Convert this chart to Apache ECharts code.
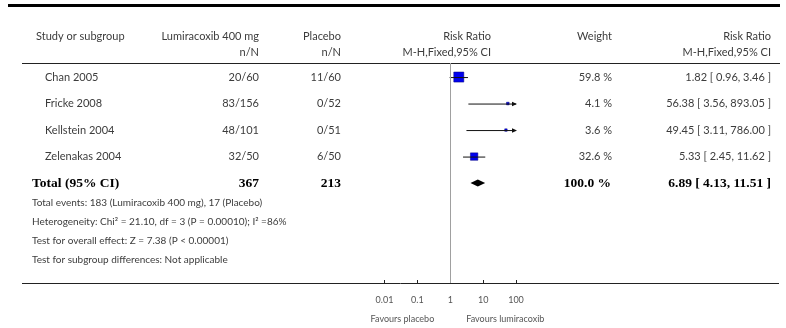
<!DOCTYPE html>
<html><head><meta charset="utf-8">
<script src="https://cdn.jsdelivr.net/npm/echarts@6/dist/echarts.min.js"></script>
<style>html,body{margin:0;padding:0;background:#fff}#c{width:786px;height:328px}</style>
</head><body><div id="c"></div>
<script>
// ---- data ----
const studies = ['Chan 2005', 'Fricke 2008', 'Kellstein 2004', 'Zelenakas 2004'];
const treatN = ['20/60', '83/156', '48/101', '32/50'];
const placeboN = ['11/60', '0/52', '0/51', '6/50'];
const rr = [1.82, 56.38, 49.45, 5.33];
const ciLow = [0.96, 3.56, 3.11, 2.45];
const ciHigh = [3.46, 893.05, 786.00, 11.62];
const weights = [59.8, 4.1, 3.6, 32.6];
const totalLabel = 'Total (95% CI)';
const totalN = ['367', '213'];
const totalRR = [6.89, 4.13, 11.51];
const totalWeight = 100.0;
const footnotes = [
  'Total events: 183 (Lumiracoxib 400 mg), 17 (Placebo)',
  'Heterogeneity: Chi\u00B2 = 21.10, df = 3 (P = 0.00010); I\u00B2 =86%',
  'Test for overall effect: Z = 7.38 (P < 0.00001)',
  'Test for subgroup differences: Not applicable'
];
const tickValues = [0.01, 0.1, 1, 10, 100];
const tickLabels = ['0.01', '0.1', '1', '10', '100'];
const favours = ['Favours placebo', 'Favours lumiracoxib'];

// ---- chart ----
const SANS = 'Lato';
const SERIF = 'Liberation Serif';
const TXT = '#3c3c3c';
const chart = echarts.init(document.getElementById('c'), null, {renderer: 'canvas'});

const AX_MIN = 0.01, AX_MAX = 100;
const seriesData = studies.map((s, i) => [rr[i], i, ciLow[i], ciHigh[i], weights[i], 0]);
seriesData.push([totalRR[0], studies.length, totalRR[1], totalRR[2], totalWeight, 1]);

function renderItem(params, api) {
  const est = api.value(0), row = api.value(1), l = api.value(2), h = api.value(3), w = api.value(4), isTotal = api.value(5);
  const y = api.coord([1, row])[1];
  const xe = api.coord([est, row])[0];
  const xl = api.coord([Math.max(l, AX_MIN), row])[0];
  const xh = api.coord([Math.min(h, AX_MAX), row])[0];
  const children = [];
  if (isTotal) {
    const hh = 3.5;
    children.push({type: 'polygon', shape: {points: [[xl, y], [xe, y - hh], [xh, y], [xe, y + hh]]}, style: {fill: '#000'}});
  } else {
    const s = Math.max(2.4, 1.3 * Math.sqrt(w));
    children.push({type: 'rect', shape: {x: xe - s / 2, y: y - s / 2, width: s, height: s}, style: {fill: '#0000ee', stroke: '#00007a', lineWidth: 0.5}});
    children.push({type: 'line', shape: {x1: xl, y1: y + 0.5, x2: xh, y2: y + 0.5}, style: {stroke: '#111', lineWidth: 1}});
    if (h > AX_MAX) {
      children.push({type: 'polygon', shape: {points: [[xh + 1, y + 0.5], [xh - 4, y - 1.7], [xh - 4, y + 2.7]]}, style: {fill: '#111'}});
    }
    if (l < AX_MIN) {
      children.push({type: 'polygon', shape: {points: [[xl - 1, y + 0.5], [xl + 4, y - 1.7], [xl + 4, y + 2.7]]}, style: {fill: '#111'}});
    }
  }
  return {type: 'group', children: children};
}

const option = {
  animation: false,
  grid: {left: 384.5, width: 131.5, top: 63, bottom: 45, containLabel: false},
  xAxis: {
    type: 'log', logBase: 10, min: AX_MIN, max: AX_MAX,
    axisLine: {show: false, onZero: false},
    axisTick: {show: true, inside: true, length: 3, lineStyle: {color: '#222', width: 1}},
    axisLabel: {
      show: true, margin: 13, fontFamily: SANS, fontSize: 9, color: '#555',
      formatter: v => tickLabels[tickValues.findIndex(t => Math.abs(Math.log10(t) - Math.log10(v)) < 1e-6)] || ''
    },
    splitLine: {show: false}, minorTick: {show: false}
  },
  yAxis: {type: 'value', inverse: true, min: -0.53, max: 7.77, show: false},
  series: [{
    type: 'custom', renderItem: renderItem, data: seriesData, clip: false,
    encode: {x: 0, y: 1},
    markLine: {
      silent: true, symbol: 'none', animation: false,
      label: {show: false},
      lineStyle: {color: '#a0a0a0', width: 1, type: 'solid'},
      data: [{xAxis: 1}]
    }
  }]
};
chart.setOption(option);

// ---- table text & rules ----
const rowY = r => chart.convertToPixel({yAxisIndex: 0}, r);
const axisY = 328 - 45;
const g = [];
function txt(x, y, text, align, opts) {
  opts = opts || {};
  g.push({type: 'text', x: x, y: y, silent: true, style: {
    text: text, align: align || 'left', verticalAlign: 'middle',
    fontFamily: opts.font || SANS, fontSize: opts.size || 11,
    fontWeight: opts.weight || 'normal', fill: opts.color || TXT
  }});
}
function hline(x1, x2, y, w, c) {
  g.push({type: 'line', silent: true, shape: {x1: x1, y1: y, x2: x2, y2: y}, style: {stroke: c || '#222', lineWidth: w || 1}});
}
hline(8, 780, 5.5, 3, '#000');
hline(22, 780, 63.5, 1, '#222');
hline(22, 779, axisY + 0.5, 1, '#222');

// headers
txt(36, 36, 'Study or subgroup', 'left');
txt(259, 36, 'Lumiracoxib 400 mg', 'right');
txt(341, 36, 'Placebo', 'right');
txt(491, 36, 'Risk Ratio', 'right');
txt(612, 36, 'Weight', 'right');
txt(771, 36, 'Risk Ratio', 'right');
txt(259, 52, 'n/N', 'right');
txt(341, 52, 'n/N', 'right');
txt(491, 52, 'M-H,Fixed,95% CI', 'right');
txt(771, 52, 'M-H,Fixed,95% CI', 'right');

// study rows
studies.forEach((s, i) => {
  const y = rowY(i);
  txt(45, y, s, 'left');
  txt(259, y, treatN[i], 'right');
  txt(341, y, placeboN[i], 'right');
  txt(612, y, weights[i].toFixed(1) + ' %', 'right');
  txt(771, y, rr[i].toFixed(2) + ' [ ' + ciLow[i].toFixed(2) + ', ' + ciHigh[i].toFixed(2) + ' ]', 'right');
});
// total row
const ty = rowY(studies.length);
const bold = {font: SERIF, size: 13.5, weight: 'bold', color: '#000'};
txt(32, ty, totalLabel, 'left', bold);
txt(259, ty, totalN[0], 'right', bold);
txt(341, ty, totalN[1], 'right', bold);
txt(611, ty, totalWeight.toFixed(1) + ' %', 'right', bold);
txt(771, ty, totalRR[0].toFixed(2) + ' [ ' + totalRR[1].toFixed(2) + ', ' + totalRR[2].toFixed(2) + ' ]', 'right', bold);

// footnotes
footnotes.forEach((f, i) => txt(32, 203 + i * 19, f, 'left', {size: 10}));

// favours labels
const x1 = chart.convertToPixel({xAxisIndex: 0}, 1);
txt(x1 - 16, 319, favours[0], 'right', {size: 9, color: '#555'});
txt(x1 + 16, 319, favours[1], 'left', {size: 9, color: '#555'});

chart.setOption({graphic: g});
</script>
</body></html>
